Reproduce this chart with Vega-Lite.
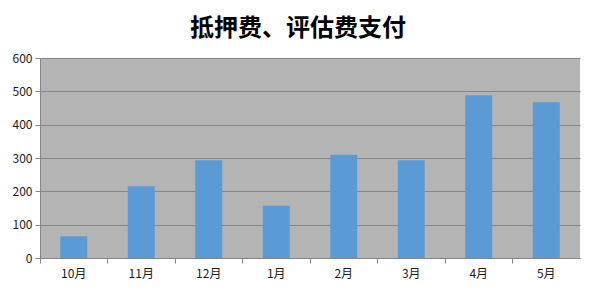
{
  "$schema": "https://vega.github.io/schema/vega-lite/v6.json",
  "width": 540,
  "height": 200,
  "autosize": {"type": "none"},
  "padding": {"left": 40, "top": 58, "right": 16, "bottom": 36},
  "background": "white",
  "title": {
    "text": "抵押费、评估费支付",
    "font": "Noto Sans CJK SC",
    "fontSize": 24,
    "fontWeight": "bold",
    "color": "#000000",
    "anchor": "middle",
    "dx": -12,
    "offset": 11
  },
  "data": {
    "values": [
      {"month": "10月", "value": 65},
      {"month": "11月", "value": 215},
      {"month": "12月", "value": 293},
      {"month": "1月", "value": 157},
      {"month": "2月", "value": 310},
      {"month": "3月", "value": 293},
      {"month": "4月", "value": 488},
      {"month": "5月", "value": 467}
    ]
  },
  "layer": [
    {
      "mark": {"type": "bar", "color": "#5B9BD5"},
      "encoding": {
        "x": {
          "field": "month", "type": "nominal", "sort": null,
          "scale": {"paddingInner": 0.6, "paddingOuter": 0.3},
          "axis": {
            "title": null, "labelAngle": 0, "ticks": false, "orient": "bottom",
            "labelFont": "Noto Sans CJK SC", "labelFontSize": 12, "labelColor": "#1a1a1a",
            "labelPadding": 10, "domainColor": "#868686"
          }
        },
        "y": {
          "field": "value", "type": "quantitative",
          "scale": {"domain": [0, 600]},
          "axis": {
            "title": null, "values": [0, 100, 200, 300, 400, 500, 600],
            "labelFont": "Noto Sans CJK SC", "labelFontSize": 12, "labelColor": "#1a1a1a",
            "tickColor": "#868686", "tickSize": 5, "labelPadding": 3,
            "domainColor": "#868686", "gridColor": "#868686", "gridOpacity": 1
          }
        }
      }
    },
    {
      "mark": {"type": "bar", "opacity": 0},
      "encoding": {
        "x": {
          "field": "month", "type": "nominal", "sort": null,
          "axis": {
            "title": null, "labels": false, "ticks": true, "bandPosition": -0.75,
            "orient": "bottom", "grid": false,
            "tickColor": "#868686", "tickSize": 5, "domain": false
          }
        },
        "y": {
          "field": "value", "type": "quantitative",
          "axis": {
            "title": null, "values": [0, 100, 200, 300, 400, 500, 600],
            "labelFont": "Noto Sans CJK SC", "labelFontSize": 12, "labelColor": "#1a1a1a",
            "tickColor": "#868686", "tickSize": 5, "labelPadding": 3,
            "domainColor": "#868686", "gridColor": "#868686", "gridOpacity": 1
          }
        }
      }
    }
  ],
  "resolve": {"axis": {"x": "independent"}},
  "config": {
    "view": {"fill": "#B4B4B4", "stroke": null}
  }
}
